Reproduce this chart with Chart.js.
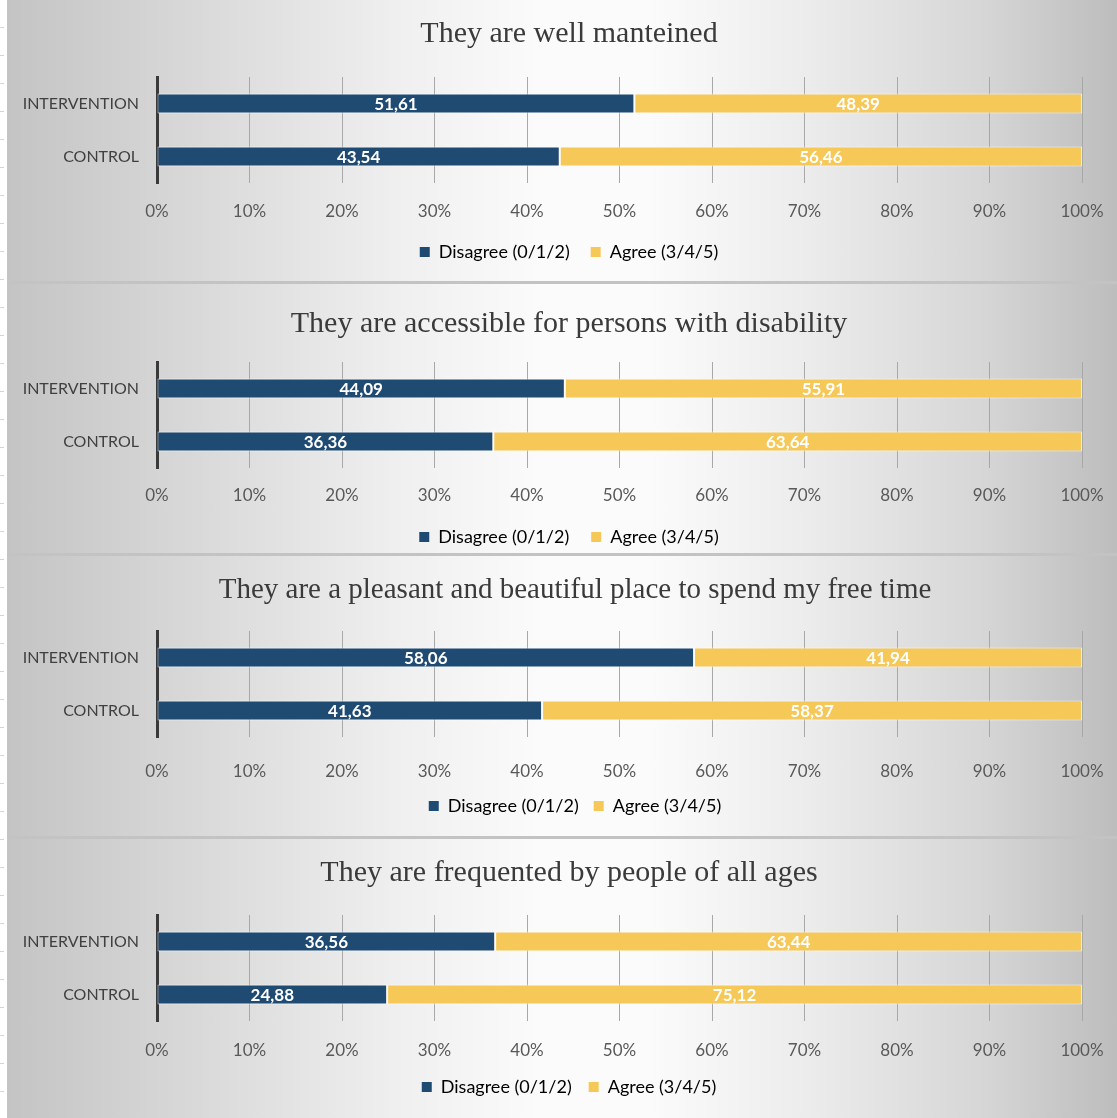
<!DOCTYPE html>
<html>
<head>
<meta charset="utf-8">
<script src="https://cdn.jsdelivr.net/npm/chart.js@4.4.1/dist/chart.umd.min.js"></script>
<style>
  html, body { margin: 0; padding: 0; background: #fff; }
  body { width: 1117px; height: 1118px; position: relative; overflow: hidden; }
  .strip {
    position: absolute; left: 0; top: 0; width: 7px; height: 1118px; background: #fff;
    background-image: repeating-linear-gradient(to bottom, transparent 0 27px, #d4d4d4 27px 28px);
    background-size: 4px 100%; background-repeat: no-repeat;
  }
  .panel {
    position: absolute; left: 7px; width: 1110px;
    background: linear-gradient(to right, #c4c4c4 0%, #dadada 18%, #efefef 35%, #fbfbfb 48%, #fbfbfb 58%, #ececec 72%, #d6d6d6 88%, #bdbdbd 100%);
    box-sizing: border-box;
  }
  .panel.sep { border-bottom: 3px solid #c3c3c3; }
  .panel canvas { display: block; }
</style>
</head>
<body>
<div class="strip"></div>
<div id="panels"></div>
<script>
// Survey results: share of respondents per group, by statement
const panelTitles = [
  'They are well manteined',
  'They are accessible for persons with disability',
  'They are a pleasant and beautiful place to spend my free time',
  'They are frequented by people of all ages'
];
const categories = ['INTERVENTION', 'CONTROL'];
const seriesNames = ['Disagree (0/1/2)', 'Agree (3/4/5)'];
const disagree = [
  [51.61, 43.54],
  [44.09, 36.36],
  [58.06, 41.63],
  [36.56, 24.88]
];
const agree = [
  [48.39, 56.46],
  [55.91, 63.64],
  [41.94, 58.37],
  [63.44, 75.12]
];

const seriesColors = ['#1f4a72', '#f6c857'];

// Vertical placement of each panel and its inner spacing.
// shift moves the centred title/legend to the right of the canvas middle.
const panelLayout = [
  { top: 0,   height: 284, sep: true,  titleSize: 30, titleTop: 16,   titleBottom: 25,   tickPad: 18, axisH: 39, legendPad: 21, bottom: 19, shift: 14 },
  { top: 284, height: 272, sep: true,  titleSize: 30, titleTop: 22,   titleBottom: 20,   tickPad: 17, axisH: 38, legendPad: 22, bottom: 7,  shift: 14 },
  { top: 556, height: 283, sep: true,  titleSize: 29, titleTop: 16.6, titleBottom: 23.6, tickPad: 24, axisH: 45, legendPad: 15, bottom: 14, shift: 26 },
  { top: 839, height: 279, sep: false, titleSize: 30, titleTop: 16,   titleBottom: 24,   tickPad: 19, axisH: 40, legendPad: 17, bottom: 17, shift: 14 }
];
const PLOT_LEFT = 150;
const PLOT_RIGHT_GAP = 35;
const LEGEND_H = 40;

const fmt = v => v.toFixed(2).replace('.', ',');

const valueLabels = {
  id: 'valueLabels',
  afterDatasetsDraw(chart) {
    const ctx = chart.ctx;
    ctx.save();
    ctx.fillStyle = '#ffffff';
    ctx.font = 'bold 17px Lato';
    ctx.textAlign = 'center';
    ctx.textBaseline = 'middle';
    chart.data.datasets.forEach((ds, i) => {
      const meta = chart.getDatasetMeta(i);
      meta.data.forEach((bar, j) => {
        const p = bar.getProps(['x', 'y', 'base'], true);
        ctx.fillText(fmt(ds.data[j]), (p.x + p.base) / 2, p.y + 1);
      });
    });
    ctx.restore();
  }
};

const host = document.getElementById('panels');

panelTitles.forEach((title, k) => {
  const L = panelLayout[k];
  const canvasH = L.height - (L.sep ? 3 : 0);
  const div = document.createElement('div');
  div.className = 'panel' + (L.sep ? ' sep' : '');
  div.style.top = L.top + 'px';
  div.style.height = L.height + 'px';
  const canvas = document.createElement('canvas');
  canvas.width = 1110;
  canvas.height = canvasH;
  canvas.style.width = '1110px';
  canvas.style.height = canvasH + 'px';
  div.appendChild(canvas);
  host.appendChild(div);

  new Chart(canvas, {
    type: 'bar',
    data: {
      labels: categories,
      datasets: [
        { label: seriesNames[0], data: disagree[k], backgroundColor: seriesColors[0] },
        { label: seriesNames[1], data: agree[k], backgroundColor: seriesColors[1] }
      ]
    },
    options: {
      indexAxis: 'y',
      responsive: false,
      animation: false,
      devicePixelRatio: 1,
      datasets: {
        bar: {
          barPercentage: 0.38,
          categoryPercentage: 1,
          borderColor: 'rgba(255,255,255,0.75)',
          borderWidth: 1,
          borderSkipped: false
        }
      },
      layout: { padding: { left: 0, right: -L.shift, top: 0, bottom: L.bottom } },
      scales: {
        x: {
          stacked: true,
          min: 0,
          max: 100,
          ticks: {
            stepSize: 10,
            padding: L.tickPad,
            color: '#595959',
            font: { family: 'Lato', size: 17 },
            callback: v => v + '%'
          },
          grid: { color: '#a8a8a8', lineWidth: 1, drawTicks: false },
          border: { display: false },
          afterFit: s => { s.height = L.axisH; s.paddingLeft = 0; s.paddingRight = 0; }
        },
        y: {
          stacked: true,
          ticks: {
            padding: 18,
            color: '#404040',
            font: { family: 'Lato', size: 16 }
          },
          grid: { display: false, drawTicks: false },
          border: { display: true, color: '#3a3a3a', width: 3 },
          afterFit: s => { s.width = PLOT_LEFT; }
        },
        // empty right-hand gutter that keeps the plot clear of the canvas edge
        gutter: {
          type: 'category',
          position: 'right',
          labels: categories,
          ticks: { display: false },
          grid: { display: false, drawTicks: false },
          border: { display: false },
          afterFit: s => { s.width = PLOT_RIGHT_GAP + L.shift; }
        }
      },
      plugins: {
        title: {
          display: true,
          text: title,
          color: '#3a3a3a',
          font: { family: 'Liberation Serif', size: L.titleSize, weight: 'normal' },
          padding: { top: L.titleTop, bottom: L.titleBottom }
        },
        legend: {
          position: 'bottom',
          maxHeight: LEGEND_H,
          labels: {
            boxWidth: 10,
            boxHeight: 10,
            padding: L.legendPad,
            color: '#404040',
            font: { family: 'Lato', size: 18 },
            generateLabels(chart) {
              return chart.data.datasets.map((ds, i) => ({
                text: ds.label,
                fillStyle: ds.backgroundColor,
                strokeStyle: ds.backgroundColor,
                lineWidth: 0,
                datasetIndex: i,
                hidden: false
              }));
            }
          }
        },
        tooltip: { enabled: false }
      }
    },
    plugins: [valueLabels]
  });
});
</script>
</body>
</html>
